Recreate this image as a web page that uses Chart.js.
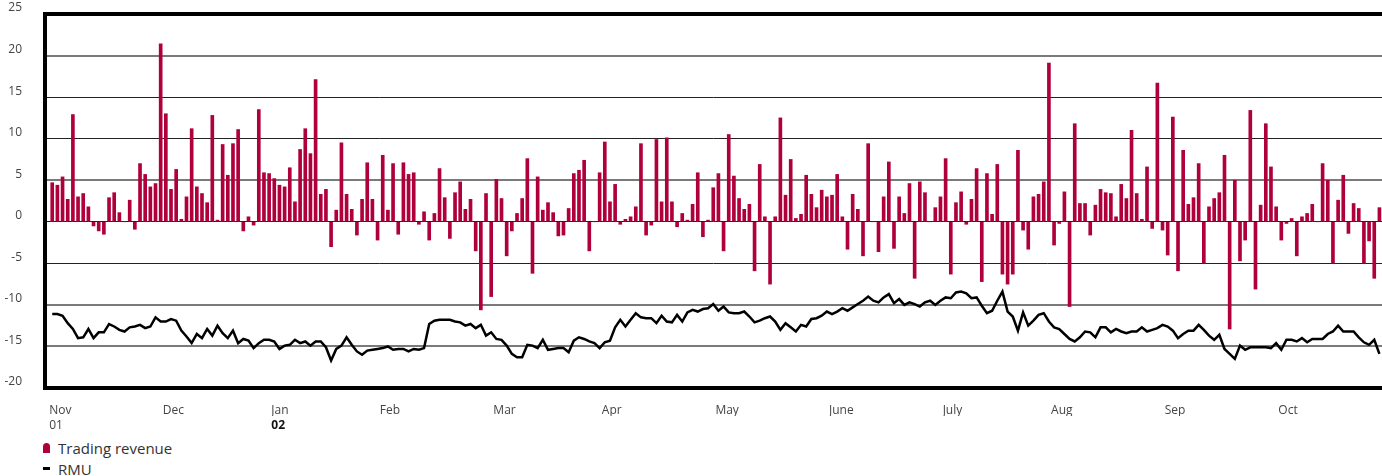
<!DOCTYPE html>
<html>
<head>
<meta charset="utf-8">
<script src="https://cdn.jsdelivr.net/npm/chart.js@4/dist/chart.umd.min.js"></script>
<style>
  body { margin: 0; background: #fff; overflow: hidden; font-family: 'Open Sans', sans-serif; }
  #wrap { position: relative; width: 1382px; height: 436px; }
  .legend { position: absolute; left: 43px; color: #333; font-size: 15px; }
  .legend .item { display: flex; align-items: center; height: 21px; }
  .swatch-bar { width: 7px; height: 10px; background: #b0003c; border-radius: 4px 4px 0 0; margin-right: 8px; }
  .swatch-line { width: 7px; height: 3px; background: #000; margin-right: 8px; }
</style>
</head>
<body>
<div id="wrap"><canvas id="revenue-chart"></canvas></div>
<div class="legend" style="top:437px">
  <div class="item"><span class="swatch-bar"></span>Trading revenue</div>
  <div class="item"><span class="swatch-line"></span>RMU</div>
</div>
<script>
// daily trading revenue, CHF million
const tradingRevenue = [
  4.7, 4.4, 5.4, 2.7, 12.9, 3.0, 3.4, 1.8, -0.5, -1.1, -1.5, 2.9, 3.5, 1.1, 0, 2.6, -0.9, 7.0, 5.7, 4.2,
  4.6, 21.4, 13.0, 3.9, 6.3, 0.3, 3.0, 11.2, 4.2, 3.4, 2.3, 12.8, 0.2, 9.3, 5.6, 9.4, 11.1, -1.1, 0.6, -0.4,
  13.5, 5.9, 5.8, 5.2, 4.4, 4.2, 6.5, 2.4, 8.7, 11.2, 8.2, 17.1, 3.3, 3.9, -3.0, 1.4, 9.5, 3.3, 1.5, -1.6,
  2.7, 7.1, 2.7, -2.2, 8.0, 1.4, 7.0, -1.5, 7.1, 5.7, 5.9, -0.3, 1.2, -2.2, 1.0, 6.4, 2.9, -2.0, 3.5, 4.8,
  1.5, 2.7, -3.5, -10.6, 3.4, -9.0, 5.1, 2.8, -4.1, -1.1, 1.0, 2.8, 7.6, -6.2, 5.4, 1.4, 2.3, 1.1, -1.7, -1.6,
  1.6, 5.8, 6.2, 7.4, -3.5, 0, 5.9, 9.6, 2.4, 4.5, -0.3, 0.3, 0.6, 1.8, 9.4, -1.6, -0.4, 9.9, 2.4, 10.1,
  2.4, -0.6, 1.0, 0.2, 2.1, 5.9, -1.8, 0.2, 4.1, 5.8, -3.5, 10.5, 5.5, 2.8, 1.5, 2.1, -5.9, 6.9, 0.6, -7.5,
  0.6, 12.5, 3.2, 7.5, 0.4, 0.9, 5.6, 3.3, 1.7, 3.8, 3.0, 3.2, 5.7, 0.6, -3.3, 3.3, 1.5, -4.1, 9.4, 0,
  -3.6, 3.0, 7.2, -3.2, 3.0, 1.0, 4.6, -6.8, 4.8, 3.5, 0, 1.7, 3.0, 7.6, -6.3, 2.3, 3.6, -0.3, 2.7, 6.4,
  -7.2, 5.8, 0.9, 6.9, -6.3, -7.5, -6.3, 8.6, -1.0, -3.3, 3.0, 3.3, 4.8, 19.1, -2.8, -0.2, 3.6, -10.2, 11.8, 2.2,
  2.2, -1.6, 2.0, 3.9, 3.5, 3.4, 0.6, 4.5, 2.8, 11.0, 3.4, 0.3, 6.6, -0.8, 16.7, -1.0, -4.0, 12.6, -5.9, 8.6,
  2.1, 2.9, 7.0, -5.0, 1.8, 2.8, 3.5, 8.0, -12.9, 5.0, -4.7, -2.2, 13.4, -8.1, 2.0, 11.8, 6.6, 1.8, -2.2, -0.2,
  0.4, -4.1, 0.6, 1.0, 2.1, 0, 7.0, 5.0, -5.0, 2.6, 5.6, -1.4, 2.2, 1.6, -5.0, -2.3, -6.8, 1.7
];

// regulatory market risk (RMU), same days
const rmu = [
  -11.1, -11.1, -11.3, -12.2, -12.9, -14.0, -13.9, -12.9, -14.0, -13.3, -13.3, -12.3, -12.6, -13.0, -13.2, -12.7, -12.6, -12.4, -12.8, -12.6,
  -11.5, -12.0, -12.0, -11.7, -11.9, -13.1, -13.8, -14.6, -13.5, -14.0, -12.9, -13.7, -12.5, -13.4, -14.0, -13.1, -14.6, -14.1, -14.3, -15.2,
  -14.6, -14.2, -14.2, -14.4, -15.3, -14.9, -14.8, -14.2, -14.6, -14.4, -14.9, -14.4, -14.4, -15.1, -16.7, -15.3, -14.9, -13.9, -14.8, -15.6,
  -16.0, -15.5, -15.4, -15.3, -15.2, -15.0, -15.4, -15.3, -15.3, -15.6, -15.3, -15.4, -15.2, -12.3, -11.9, -11.8, -11.8, -11.8, -12.0, -12.1,
  -12.5, -12.3, -12.8, -12.4, -13.7, -13.3, -14.1, -14.2, -14.9, -15.9, -16.3, -16.3, -14.8, -14.9, -15.2, -14.2, -15.4, -15.3, -15.2, -15.2,
  -15.7, -14.3, -13.9, -14.1, -14.4, -14.6, -15.2, -14.5, -14.3, -12.7, -11.8, -12.6, -11.8, -11.0, -11.5, -11.6, -11.6, -12.2, -11.3, -12.0,
  -12.1, -11.2, -12.0, -10.9, -10.6, -10.8, -10.5, -10.4, -9.9, -10.7, -10.2, -10.9, -11.0, -11.0, -10.8, -11.4, -12.1, -11.9, -11.6, -11.4,
  -12.0, -13.0, -12.2, -12.7, -13.2, -12.4, -12.6, -11.7, -11.6, -11.3, -10.8, -11.1, -10.8, -10.4, -10.7, -10.3, -9.9, -9.5, -9.0, -9.5,
  -9.7, -9.1, -8.7, -9.8, -9.3, -10.0, -9.7, -9.9, -10.2, -9.7, -9.5, -10.0, -9.5, -9.1, -9.2, -8.5, -8.4, -8.6, -9.2, -9.1,
  -10.1, -11.0, -10.7, -9.5, -8.4, -10.8, -11.4, -13.1, -10.9, -12.5, -11.9, -11.2, -11.0, -12.0, -12.7, -12.9, -13.5, -14.1, -14.4, -13.9,
  -13.2, -13.3, -13.9, -12.7, -12.7, -13.3, -12.9, -13.2, -13.4, -13.2, -13.2, -12.7, -13.2, -13.0, -12.8, -12.4, -12.6, -13.1, -14.0, -13.5,
  -13.1, -13.1, -12.4, -13.0, -13.7, -14.2, -13.6, -15.3, -15.9, -16.5, -14.9, -15.4, -15.1, -15.1, -15.1, -15.1, -15.2, -14.6, -15.4, -14.2,
  -14.2, -14.4, -14.0, -14.5, -14.1, -14.1, -14.1, -13.5, -13.2, -12.5, -13.2, -13.2, -13.2, -13.9, -14.5, -14.8, -14.2, -15.9
];

// first day of each month (day index) and its label
const monthStarts = [0, 22, 43, 64, 86, 107, 129, 151, 173, 194, 216, 238];
const monthNames = ['Nov', 'Dec', 'Jan', 'Feb', 'Mar', 'Apr', 'May', 'June', 'July', 'Aug', 'Sep', 'Oct'];
const yearStarts = [0, 43];
const yearNames = ['01', '02'];

const days = tradingRevenue.map((_, i) => i);
const dayMin = -1.4;
const dayMax = 257.5;

Chart.defaults.font.family = "'Open Sans', sans-serif";
Chart.defaults.color = '#444';

// heavy frame on left, top and bottom of the plot
const framePlugin = {
  id: 'frame',
  afterDraw(chart) {
    const { ctx, chartArea: a } = chart;
    ctx.save();
    ctx.strokeStyle = '#000';
    ctx.lineWidth = 4;
    ctx.beginPath();
    ctx.moveTo(a.right + 2, a.top);
    ctx.lineTo(a.left, a.top);
    ctx.lineTo(a.left, a.bottom);
    ctx.lineTo(a.right + 2, a.bottom);
    ctx.stroke();
    ctx.restore();
  }
};

const revenueCtx = document.getElementById('revenue-chart').getContext('2d');

const revenueChart = new Chart(revenueCtx, {
  type: 'bar',
  data: {
    labels: days,
    datasets: [{
      type: 'line',
      label: 'RMU',
      data: rmu,
      borderColor: '#000',
      borderWidth: 2.5,
      pointRadius: 0,
      tension: 0,
      order: 0
    }, {
      label: 'Trading revenue',
      data: tradingRevenue,
      backgroundColor: '#b0003c',
      barThickness: 3,
      order: 1
    }]
  },
  options: {
    responsive: true,
    maintainAspectRatio: false,
    animation: false,
    devicePixelRatio: 1,
    layout: { padding: { top: 14, left: 0, right: 0, bottom: 0 } },
    plugins: { legend: { display: false }, tooltip: { enabled: false } },
    scales: {
      x: {
        type: 'linear',
        axis: 'x',
        min: dayMin,
        max: dayMax,
        offset: false,
        weight: 1,
        grid: { display: false, drawTicks: false, offset: false },
        border: { display: false },
        afterBuildTicks: (scale) => { scale.ticks = monthStarts.map(v => ({ value: v })); },
        afterFit: (scale) => { scale.height = 28; },
        ticks: {
          autoSkip: false,
          maxRotation: 0,
          align: 'start',
          labelOffset: -3,
          padding: 15,
          font: { size: 12, lineHeight: '15px' },
          color: '#444',
          callback: (v) => monthNames[monthStarts.indexOf(v)]
        }
      },
      xYear: {
        type: 'linear',
        axis: 'x',
        position: 'bottom',
        min: dayMin,
        max: dayMax,
        offset: false,
        weight: 2,
        grid: { display: false, drawTicks: false },
        border: { display: false },
        afterBuildTicks: (scale) => { scale.ticks = yearStarts.map(v => ({ value: v })); },
        afterFit: (scale) => { scale.height = 20; },
        ticks: {
          autoSkip: false,
          maxRotation: 0,
          align: 'start',
          labelOffset: -3,
          padding: 2,
          font: (c) => ({ size: 12, lineHeight: '15px', weight: c.tick && c.tick.value === 43 ? 'bold' : 'normal' }),
          color: (c) => (c.tick && c.tick.value === 43 ? '#111' : '#444'),
          callback: (v) => yearNames[yearStarts.indexOf(v)]
        }
      },
      y: {
        min: -20,
        max: 25,
        afterFit: (scale) => {
          scale.width = 45;
          scale.paddingTop = 7;
          scale.paddingBottom = 7;
        },
        grid: {
          drawTicks: false,
          color: (c) => {
            const v = c.tick.value;
            if (v === 25 || v === -20) return 'rgba(0,0,0,0)';
            return [20, 5, -10, -15].includes(v) ? '#7a7a7a' : '#222';
          },
          lineWidth: (c) => ([20, 5, -10, -15].includes(c.tick.value) ? 2 : 1)
        },
        border: { display: false },
        ticks: {
          stepSize: 5,
          padding: 23,
          labelOffset: -6,
          font: { size: 12 },
          color: '#444'
        }
      }
    }
  },
  plugins: [framePlugin]
});
</script>
</body>
</html>
